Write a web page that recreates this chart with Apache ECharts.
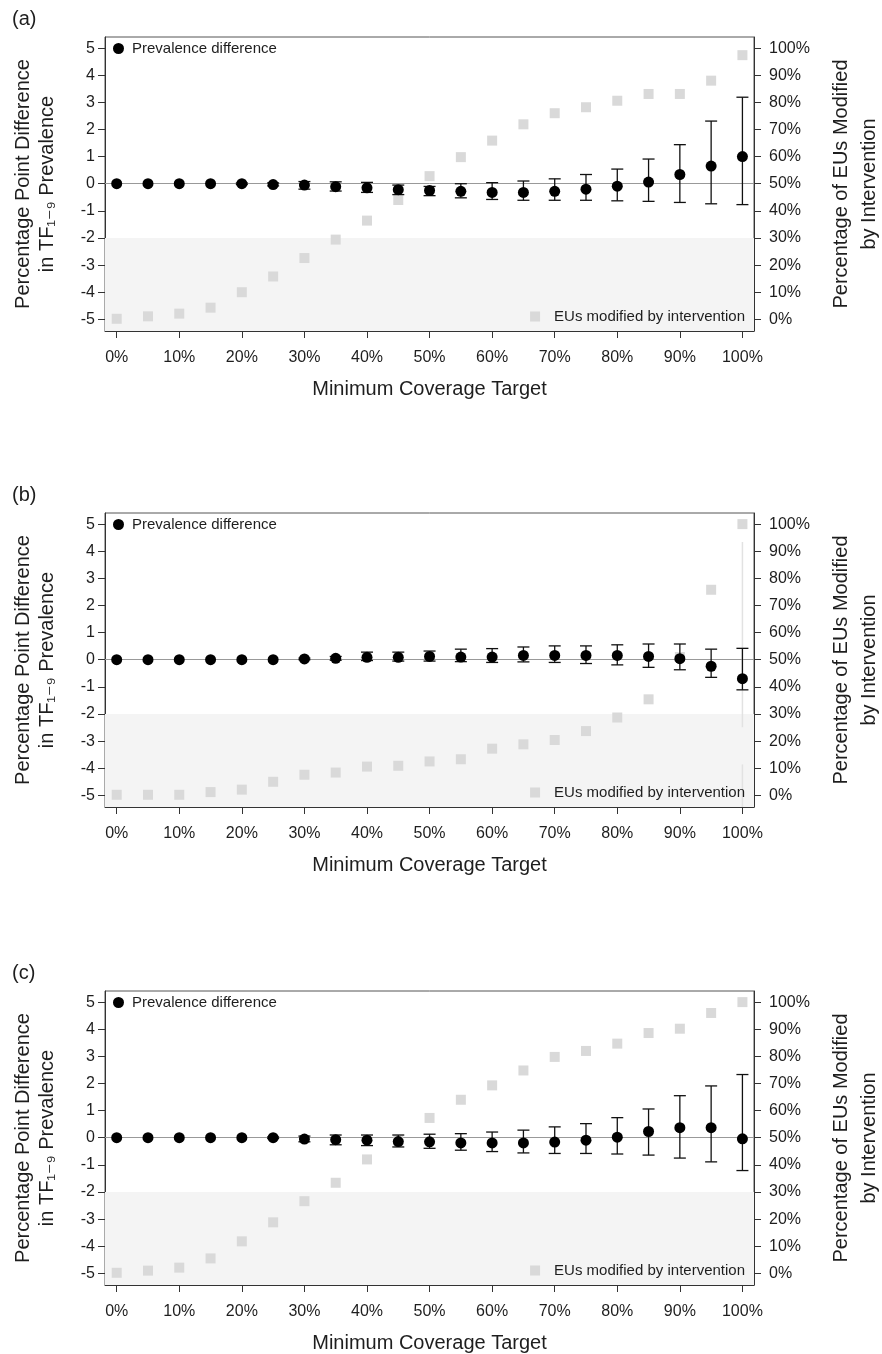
<!DOCTYPE html>
<html>
<head>
    <meta charset="utf-8">
    <title>Minimum coverage target</title>
    <script src="https://cdn.jsdelivr.net/npm/echarts@6/dist/echarts.min.js"></script>
    <style>
        *{
            margin: 0;
            padding: 0;
        }
        html,body{
            width: 100%;
            height: 100%;
            overflow: hidden;
            background: #fff;
        }
        #chart{
            width: 882px;
            height: 1354px;
        }
    </style>
</head>
<body>
<div id="chart"></div>

<script>
    // x positions: minimum coverage target (%)
    const targets = [0, 5, 10, 15, 20, 25, 30, 35, 40, 45, 50, 55, 60, 65, 70, 75, 80, 85, 90, 95, 100];
    const xTicks = [0, 10, 20, 30, 40, 50, 60, 70, 80, 90, 100];
    const leftTicks = [-5, -4, -3, -2, -1, 0, 1, 2, 3, 4, 5];
    const rightTicks = [0, 10, 20, 30, 40, 50, 60, 70, 80, 90, 100];
    const panelLabels = ['(a)', '(b)', '(c)'];

    // (a)
    const diffA = [0, 0, 0, 0, 0, -0.03, -0.05, -0.11, -0.15, -0.22, -0.25, -0.28, -0.32, -0.32, -0.28, -0.2, -0.09, 0.06, 0.34, 0.65, 1.0];
    const lowA  = [0, 0, 0, 0, -0.03, -0.08, -0.2, -0.27, -0.32, -0.4, -0.44, -0.52, -0.58, -0.61, -0.61, -0.61, -0.63, -0.65, -0.69, -0.74, -0.77];
    const highA = [0, 0, 0, 0, 0.03, 0.03, 0.08, 0.07, 0.05, -0.05, -0.1, 0, 0.04, 0.1, 0.18, 0.34, 0.54, 0.91, 1.44, 2.31, 3.19];
    const eusA  = [0.2, 1.1, 2.1, 4.3, 10, 15.8, 22.6, 29.4, 36.4, 44, 52.8, 59.8, 65.9, 71.9, 76, 78.2, 80.6, 83.1, 83.1, 88, 97.4];

    // (b)
    const diffB = [0, 0, 0, 0, 0, 0, 0.03, 0.05, 0.09, 0.09, 0.12, 0.1, 0.1, 0.16, 0.16, 0.16, 0.16, 0.12, 0.04, -0.24, -0.7];
    const lowB  = [0, 0, 0, 0, 0, 0, 0, -0.02, -0.03, -0.05, -0.05, -0.07, -0.1, -0.08, -0.1, -0.14, -0.19, -0.28, -0.37, -0.65, -1.11];
    const highB = [0, 0, 0, 0, 0, 0, 0.06, 0.12, 0.28, 0.28, 0.32, 0.39, 0.41, 0.47, 0.51, 0.51, 0.55, 0.58, 0.58, 0.39, 0.42];
    const eusB  = [0.2, 0.2, 0.2, 1.2, 2.1, 5, 7.6, 8.4, 10.6, 10.9, 12.5, 13.3, 17.2, 18.8, 20.4, 23.7, 28.7, 35.4, 51, 75.8, 100];
    // faint grey vertical trace at 100% in (b): [x, top, bottom]
    const faintB = [[100, 4.34, -2.49], [100, -3.86, -5.43]];

    // (c)
    const diffC = [0, 0, 0, 0, 0, 0, -0.05, -0.07, -0.09, -0.14, -0.15, -0.19, -0.19, -0.19, -0.16, -0.09, 0.02, 0.23, 0.37, 0.37, -0.04];
    const lowC  = [0, 0, 0, 0, 0, -0.03, -0.15, -0.26, -0.29, -0.34, -0.39, -0.46, -0.51, -0.56, -0.58, -0.58, -0.6, -0.64, -0.75, -0.89, -1.21];
    const highC = [0, 0, 0, 0, 0, 0.03, 0.06, 0.1, 0.1, 0.1, 0.13, 0.15, 0.21, 0.28, 0.4, 0.52, 0.74, 1.06, 1.55, 1.91, 2.33];
    const eusC  = [0.2, 1, 2.1, 5.5, 11.8, 18.8, 26.6, 33.4, 42, 49, 57.3, 64, 69.3, 74.8, 79.8, 82, 84.7, 88.6, 90.2, 96, 100];

    const panels = [
        {diff: diffA, low: lowA, high: highA, eus: eusA},
        {diff: diffB, low: lowB, high: highB, eus: eusB, faint: faintB},
        {diff: diffC, low: lowC, high: highC, eus: eusC}
    ];

    const X_MIN = -1.87, X_MAX = 101.85;
    const Y_MIN = -5.43, Y_MAX = 5.41;
    // right axis is the left axis mapped: pct = (y + 5) * 10
    const R_MIN = (Y_MIN + 5) * 10, R_MAX = (Y_MAX + 5) * 10;
    const tops = [37, 513, 991];
    const GRID_H = 294;
    const FONT = '"Liberation Sans", Arial, "DejaVu Sans", sans-serif';
    const INK = '#1e1e1e';

    function errRender(params, api) {
        const x = api.value(0), lo = api.value(1), hi = api.value(2);
        const p1 = api.coord([x, hi]);
        const p2 = api.coord([x, lo]);
        const w = 6;
        const st = {stroke: '#111', lineWidth: 1.3};
        return {
            type: 'group',
            children: [
                {type: 'line', shape: {x1: p1[0], y1: p1[1], x2: p2[0], y2: p2[1]}, style: st},
                {type: 'line', shape: {x1: p1[0] - w, y1: p1[1], x2: p1[0] + w, y2: p1[1]}, style: st},
                {type: 'line', shape: {x1: p2[0] - w, y1: p2[1], x2: p2[0] + w, y2: p2[1]}, style: st}
            ]
        };
    }

    function faintRender(params, api) {
        const p1 = api.coord([api.value(0), api.value(1)]);
        const p2 = api.coord([api.value(0), api.value(2)]);
        return {type: 'line', shape: {x1: p1[0], y1: p1[1], x2: p2[0], y2: p2[1]},
            style: {stroke: '#e2e2e2', lineWidth: 1.5}};
    }

    let grid = [], xAxis = [], yAxis = [], series = [], title = [], legend = [];

    panels.forEach((p, i) => {
        const top = tops[i];
        grid.push({left: 105, right: 128, top: top, height: GRID_H, show: true,
            outerBoundsMode: 'none', containLabel: false,
            borderColor: '#555', borderWidth: 1, backgroundColor: '#fff'});
        title.push({text: panelLabels[i], left: 12, top: top - 28, padding: 0,
            textStyle: {fontSize: 20, fontWeight: 'normal', color: INK, fontFamily: FONT}});

        xAxis.push({
            type: 'value', gridIndex: i, min: X_MIN, max: X_MAX,
            name: 'Minimum Coverage Target', nameLocation: 'middle', nameGap: 48,
            nameTextStyle: {fontSize: 20, color: INK},
            axisLine: {show: true, onZero: false, lineStyle: {color: '#333', width: 1}},
            axisTick: {show: true, length: 7, customValues: xTicks, lineStyle: {color: '#333'}},
            axisLabel: {customValues: xTicks, formatter: v => v + '%', fontSize: 16, color: INK, margin: 19},
            splitLine: {show: false}
        });
        yAxis.push({
            type: 'value', gridIndex: i, min: Y_MIN, max: Y_MAX, position: 'left',
            name: 'Percentage Point Difference\nin TF\u2081\u208B\u2089 Prevalence',
            nameLocation: 'middle', nameRotate: 90, nameGap: 46,
            nameTextStyle: {fontSize: 20, lineHeight: 24, color: INK, align: 'center'},
            axisLine: {show: true, onZero: false, lineStyle: {color: '#333', width: 1}},
            axisTick: {show: true, length: 7, customValues: leftTicks, lineStyle: {color: '#333'}},
            axisLabel: {customValues: leftTicks, fontSize: 16, color: INK, margin: 10},
            splitLine: {show: false}
        });
        yAxis.push({
            type: 'value', gridIndex: i, min: R_MIN, max: R_MAX, position: 'right',
            name: 'Percentage of EUs Modified\nby Intervention',
            nameLocation: 'middle', nameRotate: 90, nameGap: 73,
            nameTextStyle: {fontSize: 20, lineHeight: 28, color: INK, align: 'center'},
            axisLine: {show: true, onZero: false, lineStyle: {color: '#333', width: 1}},
            axisTick: {show: true, length: 7, customValues: rightTicks, lineStyle: {color: '#333'}},
            axisLabel: {customValues: rightTicks, formatter: v => v + '%', fontSize: 16, color: INK, margin: 15},
            splitLine: {show: false}
        });

        // shaded band below -2 and the zero reference line
        series.push({
            type: 'line', xAxisIndex: i, yAxisIndex: 2 * i, data: [], silent: true,
            markArea: {silent: true, z: 1, itemStyle: {color: '#f4f4f4'},
                data: [[{xAxis: X_MIN, yAxis: -2}, {xAxis: X_MAX, yAxis: Y_MIN}]]},
            markLine: {silent: true, z: 1.5, symbol: 'none', label: {show: false},
                lineStyle: {color: '#999', width: 1, type: 'solid'},
                data: [{yAxis: 0}]}
        });
        if (p.faint) {
            series.push({
                type: 'custom', xAxisIndex: i, yAxisIndex: 2 * i, z: 1.6, silent: true,
                renderItem: faintRender, encode: {x: 0, y: [1, 2]}, data: p.faint
            });
        }
        series.push({
            name: 'EUs modified by intervention', type: 'scatter', xAxisIndex: i, yAxisIndex: 2 * i + 1,
            symbol: 'rect', symbolSize: 10, z: 2, itemStyle: {color: '#d9d9d9', opacity: 1},
            data: targets.map((x, j) => [x, p.eus[j]])
        });
        series.push({
            type: 'custom', xAxisIndex: i, yAxisIndex: 2 * i, z: 3, silent: true,
            renderItem: errRender, encode: {x: 0, y: [1, 2]},
            data: targets.map((x, j) => [x, p.low[j], p.high[j]]).filter(d => d[2] > d[1])
        });
        series.push({
            name: 'Prevalence difference', type: 'scatter', xAxisIndex: i, yAxisIndex: 2 * i,
            symbol: 'circle', symbolSize: 11, z: 4, itemStyle: {color: '#000', opacity: 1},
            data: targets.map((x, j) => [x, p.diff[j]])
        });

        legend.push({
            data: [{name: 'Prevalence difference', icon: 'circle'}],
            left: 113, top: top + 4, padding: 0, itemWidth: 11, itemHeight: 11,
            selectedMode: false,
            textStyle: {fontSize: 15, color: INK, padding: [0, 0, 0, 3]}
        });
        legend.push({
            data: [{name: 'EUs modified by intervention', icon: 'rect'}],
            right: 137, top: top + 272, align: 'left', padding: 0, itemWidth: 10, itemHeight: 10,
            selectedMode: false,
            textStyle: {fontSize: 15, color: INK, padding: [0, 0, 0, 9]}
        });
    });

    const chart = echarts.init(document.getElementById('chart'), null, {renderer: 'canvas'});
    chart.setOption({
        animation: false,
        backgroundColor: '#fff',
        textStyle: {fontFamily: FONT},
        title, legend, grid, xAxis, yAxis, series
    });
</script>
</body>
</html>
